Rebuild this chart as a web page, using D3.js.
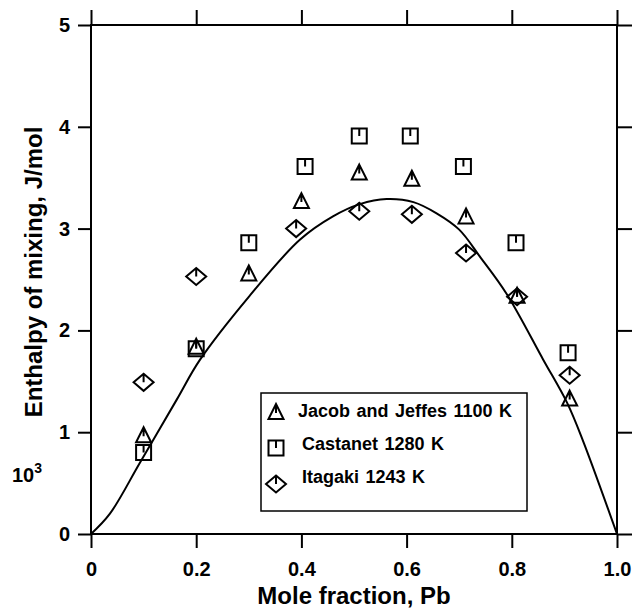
<!DOCTYPE html>
<html>
<head>
<meta charset="utf-8">
<script src="https://cdn.jsdelivr.net/npm/d3@7"></script>
<style>
  html, body { margin: 0; padding: 0; background: #fff; }
  svg { display: block; }
  text { font-family: "Liberation Sans", Arial, sans-serif; font-weight: bold; fill: #000; }
</style>
</head>
<body>
<script>
// ---- Data ----
const xTicks = [0, 0.2, 0.4, 0.6, 0.8, 1.0];
const xTickLabels = ["0", "0.2", "0.4", "0.6", "0.8", "1.0"];
const yTicks = [0, 1, 2, 3, 4, 5];
const yTickLabels = ["0", "1", "2", "3", "4", "5"];

const jacobX = [0.10, 0.20, 0.30, 0.40, 0.51, 0.61, 0.713, 0.81, 0.91];
const jacobY = [0.97, 1.84, 2.56, 3.27, 3.55, 3.49, 3.12, 2.34, 1.33];

const castanetX = [0.10, 0.20, 0.30, 0.407, 0.51, 0.607, 0.708, 0.808, 0.907];
const castanetY = [0.80, 1.82, 2.86, 3.61, 3.91, 3.91, 3.61, 2.86, 1.78];

const itagakiX = [0.10, 0.20, 0.39, 0.51, 0.61, 0.713, 0.81, 0.91];
const itagakiY = [1.49, 2.53, 3.00, 3.17, 3.14, 2.76, 2.33, 1.56];

const curveX = [0, 0.036, 0.093, 0.163, 0.207, 0.30, 0.397, 0.46, 0.511, 0.562, 0.613, 0.657, 0.70, 0.74, 0.79, 0.86, 0.905, 0.935, 1.0];
const curveY = [0, 0.20, 0.70, 1.32, 1.71, 2.33, 2.89, 3.12, 3.24, 3.29, 3.26, 3.15, 2.99, 2.72, 2.36, 1.71, 1.29, 0.92, 0];

const legendLabels = ["Jacob and Jeffes 1100 K", "Castanet 1280 K", "Itagaki 1243 K"];

// ---- Layout ----
const W = 634, H = 611;
const pL = 91, pR = 617, pT = 25, pB = 534;

const svg = d3.select("body").append("svg").attr("width", W).attr("height", H);

const x = d3.scaleLinear().domain([0, 1]).range([pL, pR]);
const y = d3.scaleLinear().domain([0, 5]).range([pB, pT]);

// Frame
svg.append("rect")
  .attr("x", pL).attr("y", pT).attr("width", pR - pL).attr("height", pB - pT)
  .attr("fill", "none").attr("stroke", "#000").attr("stroke-width", 2);

function styleAxis(g) {
  g.select(".domain").remove();
  g.selectAll(".tick line").attr("stroke", "#000").attr("stroke-width", 2);
  g.selectAll(".tick text").style("font-size", "20px").style("font-family", "'Liberation Sans', Arial, sans-serif").style("font-weight", "bold").attr("fill", "#000");
}

svg.append("g").attr("transform", `translate(0,${pB})`)
  .call(d3.axisBottom(x).tickValues(xTicks).tickFormat((d, i) => xTickLabels[i]).tickSize(14).tickPadding(14))
  .call(styleAxis);
svg.append("g").attr("transform", `translate(0,${pT})`)
  .call(d3.axisTop(x).tickValues(xTicks).tickFormat("").tickSize(15))
  .call(styleAxis);
svg.append("g").attr("transform", `translate(${pL},0)`)
  .call(d3.axisLeft(y).tickValues(yTicks).tickFormat((d, i) => yTickLabels[i]).tickSize(13).tickPadding(8))
  .call(styleAxis);
svg.append("g").attr("transform", `translate(${pR},0)`)
  .call(d3.axisRight(y).tickValues(yTicks).tickFormat("").tickSize(15))
  .call(styleAxis);

// Axis titles
svg.append("text").attr("x", (pL + pR) / 2).attr("y", 604)
  .attr("text-anchor", "middle").style("font-size", "24px").text("Mole fraction, Pb");
svg.append("text").attr("transform", "translate(42,272) rotate(-90)")
  .attr("text-anchor", "middle").style("font-size", "24px").text("Enthalpy of mixing, J/mol");
const tt = svg.append("text").attr("x", 12).attr("y", 482).style("font-size", "20px");
tt.append("tspan").text("10");
tt.append("tspan").attr("dy", -9).style("font-size", "14px").text("3");

// Curve
const line = d3.line().x(d => x(d[0])).y(d => y(d[1])).curve(d3.curveCatmullRom.alpha(0.5));
svg.append("path").datum(d3.zip(curveX, curveY))
  .attr("d", line).attr("fill", "none").attr("stroke", "#000").attr("stroke-width", 2);

// Marker shapes (with inner tick)
function triPath(cx, cy) {
  const h = 7.5;
  return `M${cx},${cy - 8}L${cx + h},${cy + 7}L${cx - h},${cy + 7}Z M${cx},${cy - 8}L${cx},${cy + 1}`;
}
function sqPath(cx, cy) {
  const h = 7.5;
  return `M${cx - h},${cy - h}H${cx + h}V${cy + h}H${cx - h}Z M${cx},${cy - h}V${cy}`;
}
function diaPath(cx, cy) {
  const hw = 10, hh = 8.5;
  return `M${cx},${cy - hh}L${cx + hw},${cy}L${cx},${cy + hh}L${cx - hw},${cy}Z M${cx},${cy - hh}V${cy}`;
}

function drawSeries(xs, ys, fn) {
  svg.append("g").selectAll("path").data(d3.zip(xs, ys)).join("path")
    .attr("d", d => fn(x(d[0]), y(d[1])))
    .attr("fill", "none").attr("stroke", "#000").attr("stroke-width", 2)
    .attr("stroke-linejoin", "miter");
}
drawSeries(itagakiX, itagakiY, diaPath);
drawSeries(castanetX, castanetY, sqPath);
drawSeries(jacobX, jacobY, triPath);

// Legend
const lg = svg.append("g");
lg.append("rect").attr("x", 261).attr("y", 393).attr("width", 266).attr("height", 118)
  .attr("fill", "#fff").attr("stroke", "#000").attr("stroke-width", 1.5);
const legendItems = [
  { fn: triPath, my: 412, tx: 298, ty: 417 },
  { fn: sqPath, my: 448, tx: 302, ty: 450 },
  { fn: diaPath, my: 484, tx: 302, ty: 483 }
];
legendItems.forEach((it, i) => {
  lg.append("path").attr("d", it.fn(276, it.my)).attr("fill", "none")
    .attr("stroke", "#000").attr("stroke-width", 2);
  lg.append("text").attr("x", it.tx).attr("y", it.ty).style("font-size", "18px")
    .style("word-spacing", "1.5px").text(legendLabels[i]);
});
</script>
</body>
</html>
